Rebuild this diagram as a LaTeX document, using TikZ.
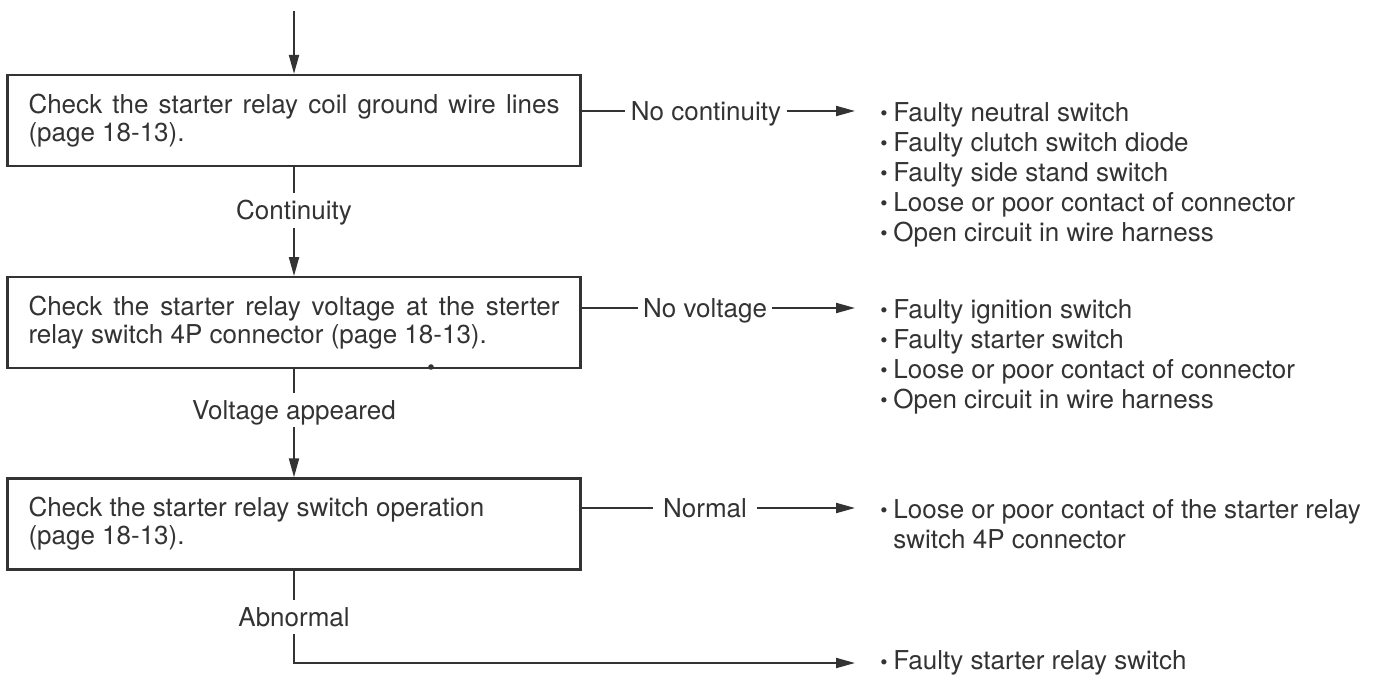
\documentclass[tikz,border=0pt]{standalone}
\usepackage{fontspec}
\setmainfont{TeX Gyre Heros}
\usepackage{graphicx}
\usetikzlibrary{arrows.meta,positioning}
\definecolor{ink}{HTML}{333333}
\newcommand{\blt}{\makebox[6.5pt][l]{\raisebox{0.3pt}{\scalebox{0.8}{\textbullet}}}}
\newcommand{\bltgap}{\hspace*{6.5pt}}
\tikzset{
  check/.style={rectangle, draw=ink, line width=1.1pt, text=ink,
    text width=265.5pt, inner xsep=10.5pt, inner ysep=0pt, minimum height=45.5pt,
    align=justify, font=\fontsize{13}{14}\selectfont},
  lbl/.style={text=ink, font=\fontsize{13}{15}\selectfont, text height=9.3pt, text depth=0pt,
    inner xsep=2.5pt, inner ysep=3.75pt},
  cause/.style={text=ink, align=left, anchor=north west, inner xsep=12.5pt, inner ysep=0pt,
    font=\fontsize{13}{15}\selectfont},
  arr/.style={-{Triangle[length=9.5pt,width=5pt]}, line width=1pt, draw=ink},
  wire/.style={line width=1pt, draw=ink},
}
\begin{document}
\begin{tikzpicture}[x=0.5pt,y=-0.5pt]
  \useasboundingbox (0,0) rectangle (1379,679);
  % check steps (left column)
  \coordinate (entry) at (294,11);
  \node[check] (chk1) at (294,120.5)
    {Check the starter relay coil ground wire lines\linebreak (page 18-13).};
  \node[check, below=54.5pt of chk1] (chk2)
    {Check the starter relay voltage at the sterter\linebreak relay switch 4P connector (page 18-13).};
  \node[check, below=54pt of chk2] (chk3)
    {Check the starter relay switch operation\newline (page 18-13).};
  % results going down
  \node[lbl, anchor=base] (cont) at (294,220) {Continuity};
  \node[lbl, anchor=base] (volt) at (294,419) {Voltage appeared};
  \node[lbl, anchor=base] (abn) at (294,626) {Abnormal};
  % results going right
  \node[lbl] (nc) at (706,111) {No continuity};
  \node[lbl] (nv) at (705,308) {No voltage};
  \node[lbl, inner xsep=5pt] (nrm) at (705,508) {Normal};
  % possible causes (right column)
  \node[cause] (res1) at (855,102)
    {\blt Faulty neutral switch\\ \blt Faulty clutch switch diode\\ \blt Faulty side stand switch\\
     \blt Loose or poor contact of connector\\ \blt Open circuit in wire harness};
  \node[cause] (res2) at (855,299)
    {\blt Faulty ignition switch\\ \blt Faulty starter switch\\
     \blt Loose or poor contact of connector\\ \blt Open circuit in wire harness};
  \node[cause] (res3) at (855,499)
    {\blt Loose or poor contact of the starter relay\\ \bltgap switch 4P connector};
  \node[cause, anchor=west] (res4) at (855,663) {\blt Faulty starter relay switch};
  % Arrows: down the column
  \draw[arr] (entry) -- (chk1.north);
  \draw[wire] (chk1.south) -- (cont.north);
  \draw[arr] (cont.south) -- (chk2.north);
  \draw[wire] (chk2.south) -- (volt.north);
  \draw[arr] (volt.south) -- (chk3.north);
  \draw[wire] (chk3.south) -- (abn.north);
  \draw[arr] (abn.south) |- (res4.west);
  % Arrows: out to the causes
  \draw[wire] (chk1.east |- nc) -- (nc.west);
  \draw[arr] (nc.east) -- (res1.west |- nc);
  \draw[wire] (chk2.east |- nv) -- (nv.west);
  \draw[arr] (nv.east) -- (res2.west |- nv);
  \draw[wire] (chk3.east |- nrm) -- (nrm.west);
  \draw[arr] (nrm.east) -- (res3.west |- nrm);
  \fill[ink] (431,367) circle (1.4pt);
\end{tikzpicture}
\end{document}
